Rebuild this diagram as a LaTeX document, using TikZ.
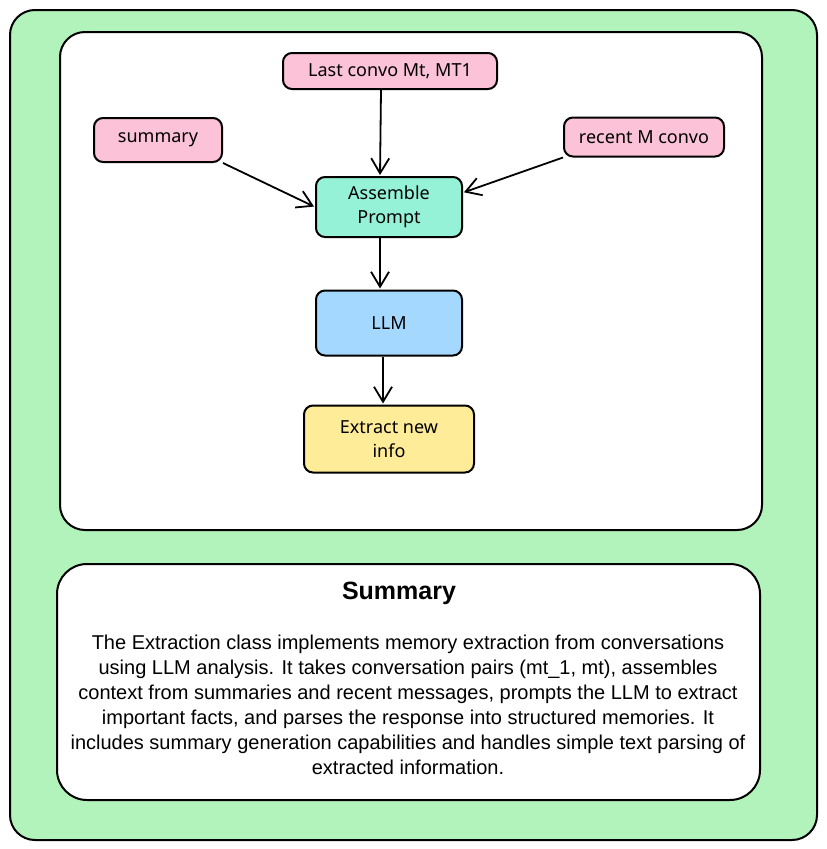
\documentclass[tikz,border=0pt]{standalone}
\usepackage{fontspec}
\setmainfont{Liberation Sans}
\newfontfamily\handfont{Noto Sans}
\usetikzlibrary{arrows.meta,positioning}

\definecolor{outerbg}{HTML}{B2F2BB}
\definecolor{pinkbox}{HTML}{FCC2D7}
\definecolor{tealbox}{HTML}{96F2D7}
\definecolor{bluebox}{HTML}{A5D8FF}
\definecolor{yellowbox}{HTML}{FFEC99}

\begin{document}
\begin{tikzpicture}[x=1pt,y=-1pt,>={Straight Barb[length=15pt,width=18pt]},shorten >=1pt,line width=2pt,node distance=116pt,
	box/.style={draw,rounded corners=9pt,align=center,font=\handfont\fontsize{18}{24}\selectfont}]

\useasboundingbox (0,0) rectangle (827,849);
\draw[fill=outerbg,rounded corners=25pt] (10,10) rectangle (817,840);
\draw[fill=white,rounded corners=25pt] (60,32) rectangle (762,530);
\draw[fill=white,rounded corners=30pt] (57,564) rectangle (760,800);

\node[box,fill=pinkbox,minimum width=214pt,minimum height=36pt] (last) at (390,71) {Last convo Mt, MT1};
 \node[box,fill=pinkbox,minimum width=128pt,minimum height=44pt] (summ) at (158,140) {summary};
\node[box,fill=pinkbox,minimum width=160pt,minimum height=39pt] (recent) at (644,137) {recent M convo};
	\node[box,fill=tealbox,minimum width=146pt,minimum height=60pt] (asm) at (389,207) {Assemble\\Prompt};
\node[box,fill=bluebox,minimum width=146pt,minimum height=65pt] (llm) [below of=asm] {LLM};
\node[box,fill=yellowbox,minimum width=170pt,minimum height=67pt] (ext) [below of=llm] {Extract new\\info};

	\path[->,line width=1.8pt] ([xshift=-9pt]last.south) edge ([xshift=-9pt]asm.north)
		(summ.south east) edge (asm.west)
		(recent.south west) edge (asm.11)
		([xshift=-9pt]asm.south) edge ([xshift=-9pt]llm.north)
		([xshift=-6pt]llm.south) edge ([xshift=-6pt]ext.north);

\node[font=\fontsize{25}{30}\selectfont\bfseries] (title) at (399,593) {Summary};
\node[align=center,font=\fontsize{20}{25}\selectfont] (text) at (408,705) {The Extraction class implements memory extraction from conversations\\
using LLM analysis. It takes conversation pairs (mt\_1, mt), assembles\\
context from summaries and recent messages, prompts the LLM to extract\\
important facts, and parses the response into structured memories. It\\
includes summary generation capabilities and handles simple text parsing of\\
extracted information.};

\end{tikzpicture}
\end{document}
